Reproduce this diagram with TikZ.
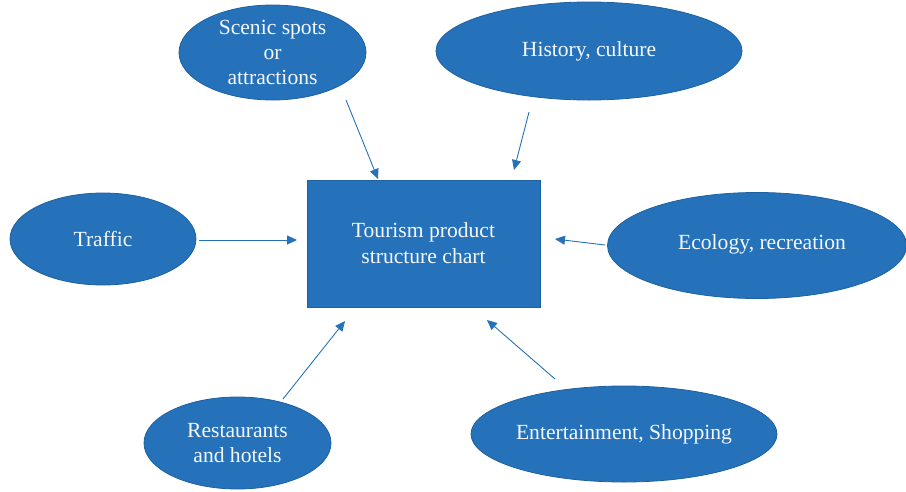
\documentclass[tikz,border=0pt]{standalone}
\usepackage{fontspec}
\setmainfont{Liberation Serif}
\usetikzlibrary{shapes.geometric,arrows.meta}
\definecolor{boxblue}{RGB}{37,114,186}
\definecolor{edgeblue}{RGB}{30,96,160}
\definecolor{txt}{RGB}{245,248,252}
\tikzset{
  blob/.style={ellipse, fill=boxblue, draw=edgeblue, line width=0.8pt, inner sep=0pt,
    text=txt, align=center, font=\fontsize{21.6}{25}\selectfont},
  centre/.style={rectangle, fill=boxblue, draw=edgeblue, line width=0.8pt, inner sep=0pt,
    text=txt, align=center, font=\fontsize{21.6}{26}\selectfont},
  link/.style={draw=boxblue, line width=0.9pt, -{Triangle[length=10pt,width=9pt]}}
}
\begin{document}
\begin{tikzpicture}[x=1pt,y=-1pt]
\useasboundingbox (0,0) rectangle (906,491);
\node[centre, minimum width=233pt, minimum height=127pt] (core) at (423.5,243.5) {Tourism product\\structure chart};
\node[blob, minimum width=187pt, minimum height=95pt] (scenic) at (272.5,52.5) {Scenic spots\\or\\attractions};
\node[blob, minimum width=306pt, minimum height=98pt] (history) at (589,51) {History, culture};
\node[blob, minimum width=186pt, minimum height=92pt] (traffic) at (103,239) {Traffic};
\node[blob, minimum width=299pt, minimum height=106pt] (ecology) at (757,245.5) {};
\node[text=txt, font=\fontsize{21.6}{25}\selectfont] (ecotext) at (762,244) {Ecology, recreation};
\node[blob, minimum width=187pt, minimum height=92pt] (rest) at (237.5,443) {Restaurants\\and hotels};
\node[blob, minimum width=306pt, minimum height=96pt] (ent) at (624,434) {Entertainment, Shopping};
% connector ends
\coordinate (s1) at (346,100); \coordinate (s2) at (378,179);
\coordinate (h1) at (529,112); \coordinate (h2) at (514,170);
\coordinate (t1) at (199,240); \coordinate (t2) at (297,240);
\coordinate (e1) at (605,245); \coordinate (e2) at (555,239);
\coordinate (r1) at (283,399); \coordinate (r2) at (345,321);
\coordinate (n1) at (555,379); \coordinate (n2) at (487,320);
\draw[link] (s1) -- (s2);
\draw[link] (h1) -- (h2);
\draw[link] (t1) -- (t2);
\draw[link] (e1) -- (e2);
\draw[link] (r1) -- (r2);
\draw[link] (n1) -- (n2);
\end{tikzpicture}
\end{document}
